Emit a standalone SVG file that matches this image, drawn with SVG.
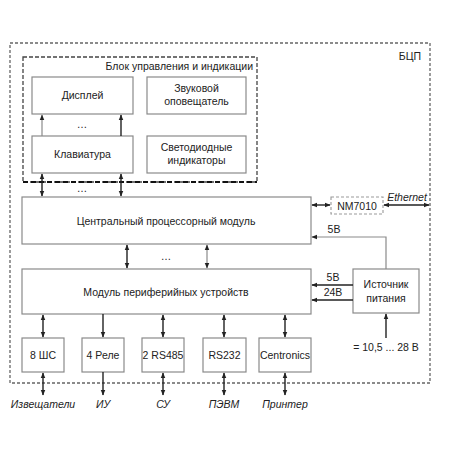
<svg xmlns="http://www.w3.org/2000/svg" width="450" height="450" viewBox="0 0 450 450">
<defs>
<marker id="ah" viewBox="0 0 10 10" refX="9" refY="5" markerWidth="6" markerHeight="6" orient="auto-start-reverse" markerUnits="userSpaceOnUse">
<path d="M0,1 L10,5 L0,9 z" fill="#222"/>
</marker>
<style>
.box{fill:#fff;stroke:#8a8a8a;stroke-width:1.2}
.t{font-family:"Liberation Sans",Arial,sans-serif;font-size:10.5px;fill:#222;text-anchor:middle}
.ti{font-family:"Liberation Sans",Arial,sans-serif;font-size:10.5px;fill:#222;text-anchor:middle;font-style:italic}
.a{stroke:#222;stroke-width:1.4;fill:none}
.ag{stroke:#8a8a8a;stroke-width:1.2;fill:none}
</style>
</defs>
<rect width="450" height="450" fill="#fff"/>
<g id="bcp">
<rect x="10" y="43" width="420" height="340" fill="none" stroke="#666" stroke-width="1.3" stroke-dasharray="3 2"/>
<text class="t" x="421" y="60" text-anchor="end" style="text-anchor:end">БЦП</text>
</g>
<g id="bui">
<rect x="23" y="57" width="234" height="125" fill="none" stroke="#444" stroke-width="1.3" stroke-dasharray="4 2"/>
<line x1="23" y1="182" x2="257" y2="182" stroke="#111" stroke-width="1.8" stroke-dasharray="5 3"/>
<text class="t" x="253" y="70" style="text-anchor:end">Блок управления и индикации</text>
</g>
<g id="display"><rect class="box" x="32" y="77" width="101" height="37"/><text class="t" x="82.5" y="99">Дисплей</text></g>
<g id="sound"><rect class="box" x="147" y="77" width="99" height="37"/><text class="t" x="196.5" y="92">Звуковой</text><text class="t" x="196.5" y="105">оповещатель</text></g>
<g id="keyboard"><rect class="box" x="32" y="136" width="101" height="37"/><text class="t" x="82.5" y="158">Клавиатура</text></g>
<g id="leds"><rect class="box" x="147" y="136" width="99" height="37"/><text class="t" x="196.5" y="151">Светодиодные</text><text class="t" x="196.5" y="164">индикаторы</text></g>
<g id="cpu"><rect class="box" x="22" y="197" width="289" height="47"/><text class="t" x="166" y="225">Центральный процессорный модуль</text></g>
<g id="periph"><rect class="box" x="22" y="269" width="289" height="45"/><text class="t" x="166" y="296">Модуль периферийных устройств</text></g>
<g id="nm7010"><rect x="331" y="197" width="52" height="17" fill="#fff" stroke="#999" stroke-width="1.1" stroke-dasharray="3 2"/><text class="t" x="357" y="209.5">NM7010</text></g>
<g id="power"><rect class="box" x="353" y="269" width="66" height="44"/><text class="t" x="386" y="288">Источник</text><text class="t" x="386" y="302">питания</text></g>
<g id="shs"><rect class="box" x="22" y="338" width="42" height="34"/><text class="t" x="43" y="359">8 ШС</text></g>
<g id="rele"><rect class="box" x="82" y="338" width="42" height="34"/><text class="t" x="103" y="359">4 Реле</text></g>
<g id="rs485"><rect class="box" x="142" y="338" width="42" height="34"/><text class="t" x="163" y="359">2 RS485</text></g>
<g id="rs232"><rect class="box" x="203" y="338" width="43" height="34"/><text class="t" x="224.5" y="359">RS232</text></g>
<g id="centronics"><rect class="box" x="259" y="338" width="52" height="34"/><text class="t" x="285" y="359">Centronics</text></g>
<g id="connectors">
<line class="ag" x1="42" y1="136" x2="42" y2="115" marker-end="url(#ah)"/>
<line class="a" x1="121" y1="136" x2="121" y2="115" marker-end="url(#ah)"/>
<text class="t" x="82" y="128">…</text>
<line class="a" x1="42" y1="174" x2="42" y2="196" marker-start="url(#ah)" marker-end="url(#ah)"/>
<line class="a" x1="121" y1="174" x2="121" y2="196" marker-start="url(#ah)" marker-end="url(#ah)"/>
<text class="t" x="82" y="192">…</text>
<line class="a" x1="127" y1="245" x2="127" y2="268" marker-start="url(#ah)" marker-end="url(#ah)"/>
<line class="ag" x1="207" y1="245" x2="207" y2="268" marker-start="url(#ah)" marker-end="url(#ah)"/>
<text class="t" x="166" y="260">…</text>
<line class="a" x1="312" y1="205" x2="330" y2="205" marker-start="url(#ah)" marker-end="url(#ah)"/>
<line class="a" x1="384" y1="205" x2="429" y2="205" marker-start="url(#ah)" marker-end="url(#ah)"/>
<text class="ti" x="407" y="201">Ethernet</text>
<polyline class="ag" points="386,269 386,237 312,237" marker-end="url(#ah)"/>
<text class="t" x="334" y="233">5В</text>
<line class="a" x1="353" y1="285" x2="312" y2="285" marker-end="url(#ah)"/>
<text class="t" x="333" y="281">5В</text>
<line class="a" x1="353" y1="300" x2="312" y2="300" marker-end="url(#ah)"/>
<text class="t" x="333" y="296">24В</text>
<line class="a" x1="386" y1="338" x2="386" y2="314" marker-end="url(#ah)"/>
<text class="t" x="386" y="351">= 10,5 ... 28 В</text>
<line class="a" x1="43" y1="315" x2="43" y2="337" marker-start="url(#ah)" marker-end="url(#ah)"/>
<line class="a" x1="103" y1="314" x2="103" y2="337" marker-end="url(#ah)"/>
<line class="a" x1="163" y1="315" x2="163" y2="337" marker-start="url(#ah)" marker-end="url(#ah)"/>
<line class="a" x1="224" y1="315" x2="224" y2="337" marker-start="url(#ah)" marker-end="url(#ah)"/>
<line class="a" x1="285" y1="315" x2="285" y2="337" marker-start="url(#ah)" marker-end="url(#ah)"/>
<line class="a" x1="43" y1="373" x2="43" y2="395" marker-start="url(#ah)" marker-end="url(#ah)"/>
<line class="a" x1="103" y1="372" x2="103" y2="395" marker-end="url(#ah)"/>
<line class="a" x1="163" y1="373" x2="163" y2="395" marker-start="url(#ah)" marker-end="url(#ah)"/>
<line class="a" x1="224" y1="373" x2="224" y2="395" marker-start="url(#ah)" marker-end="url(#ah)"/>
<line class="a" x1="285" y1="373" x2="285" y2="395" marker-start="url(#ah)" marker-end="url(#ah)"/>
<text class="ti" x="43" y="408">Извещатели</text>
<text class="ti" x="103" y="408">ИУ</text>
<text class="ti" x="163" y="408">СУ</text>
<text class="ti" x="224" y="408">ПЭВМ</text>
<text class="ti" x="285" y="408">Принтер</text>
</g>
</svg>
